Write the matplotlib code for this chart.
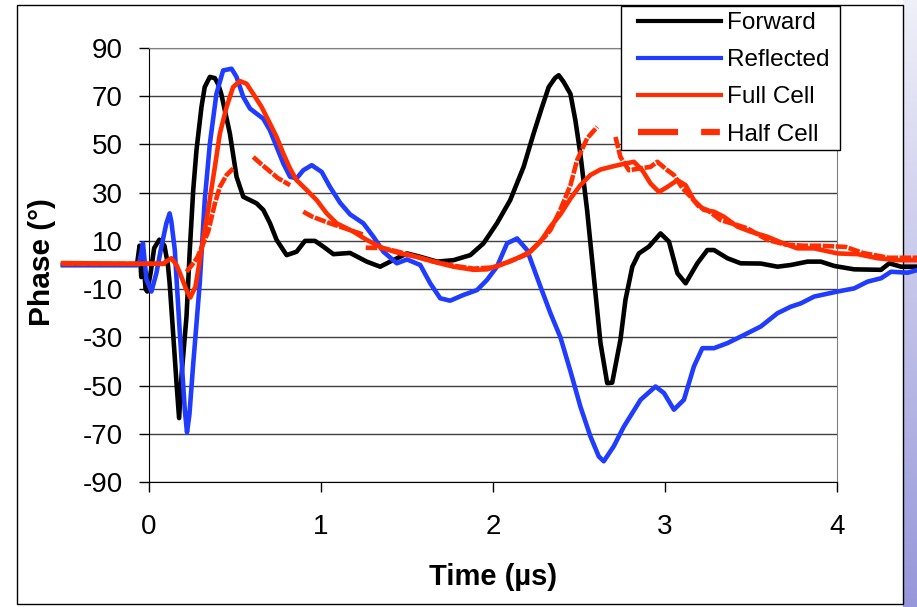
import numpy as np
import matplotlib.pyplot as plt
from matplotlib.lines import Line2D
from matplotlib.patches import Rectangle
from matplotlib.colors import LinearSegmentedColormap

plt.rcParams['font.family'] = ['Liberation Sans', 'DejaVu Sans']
plt.rcParams['axes.unicode_minus'] = False

nan = np.nan

## traces (time in us, phase in degrees)
fwd_t = [-0.5, -0.2, -0.07, -0.055, -0.045, -0.035, -0.02, -0.01, 0.01, 0.03, 0.06, 0.09, 0.11,
         0.12, 0.14, 0.16, 0.175, 0.19, 0.218, 0.237, 0.257, 0.276, 0.305, 0.324, 0.354, 0.383,
         0.402, 0.42, 0.47, 0.509, 0.548, 0.625, 0.665, 0.703, 0.742, 0.80, 0.858, 0.907, 0.965,
         1.014, 1.072, 1.169, 1.266, 1.344, 1.402, 1.5, 1.577, 1.674, 1.77, 1.868, 1.945, 2.023,
         2.1, 2.178, 2.236, 2.285, 2.324, 2.36, 2.382, 2.41, 2.45, 2.479, 2.508, 2.547, 2.586,
         2.625, 2.664, 2.693, 2.741, 2.77, 2.81, 2.848, 2.906, 2.974, 3.023, 3.072, 3.12, 3.188,
         3.246, 3.285, 3.363, 3.44, 3.557, 3.654, 3.731, 3.829, 3.906, 3.984, 4.1, 4.256, 4.304,
         4.372, 4.47]
fwd_p = [0, 0, 0, 8, -5, 6, -10, -11, -3, 7, 10.5, 8, 0,
         -7.6, -28, -49, -63.5, -45, -21.4, 6, 31, 47.6, 65.5, 73.8, 78, 77.5,
         75, 71, 54.6, 36.6, 28.3, 25.6, 22.8, 17.4, 10.4, 4.1, 5.5, 10, 10,
         7.6, 4.5, 5, 1.4, -0.7, 1.4, 4.8, 3.4, 1.4, 2, 4.1, 9, 17.3,
         26.9, 40.7, 54.5, 65.5, 73.8, 77.5, 78.7, 76, 71, 60, 46, 22.8, -4.8,
         -32.4, -49, -48.8, -31, -14.5, -0.7, 4.8, 7.6, 13.1, 9.7, -3.4, -7.6, 0.7,
         6.2, 6.2, 2.8, 0.7, 0.6, -0.7, 0, 1.4, 1.4, -0.4, -1.8, -2, 0.7,
         -0.7, -0.7]

refl_t = [-0.5, -0.06, -0.045, -0.035, -0.015, 0.014, 0.043, 0.072, 0.101, 0.12, 0.13, 0.15,
          0.179, 0.208, 0.221, 0.235, 0.256, 0.295, 0.324, 0.354, 0.392, 0.431, 0.48, 0.509,
          0.548, 0.587, 0.625, 0.664, 0.703, 0.742, 0.781, 0.82, 0.858, 0.897, 0.946, 1.004,
          1.052, 1.111, 1.169, 1.246, 1.305, 1.363, 1.441, 1.5, 1.577, 1.635, 1.693, 1.751,
          1.829, 1.907, 1.965, 2.023, 2.082, 2.14, 2.198, 2.276, 2.334, 2.392, 2.45, 2.508,
          2.566, 2.615, 2.644, 2.702, 2.761, 2.858, 2.945, 2.994, 3.052, 3.11, 3.168, 3.217,
          3.285, 3.363, 3.46, 3.557, 3.654, 3.731, 3.79, 3.867, 4.003, 4.1, 4.178, 4.256,
          4.314, 4.411, 4.47]
refl_p = [0, 0, 5, 9, -6, -11, -3.4, 7.6, 17.3, 21.4, 18, 6.2,
          -28, -60, -69.4, -62, -42, -7.6, 26.9, 50.4, 71, 80.7, 81.4, 78,
          69.7, 64.9, 62.8, 60.7, 55.9, 49, 42.1, 36.6, 35.9, 39.3, 41.4, 38.6,
          32.4, 25.8, 21, 17.3, 11.7, 5.5, 0.7, 2.3, 0, -7.6, -13.8, -14.8,
          -12.4, -10.4, -6.2, -0.7, 9, 11, 6.2, -9, -20, -30, -44, -58.7,
          -71, -79.4, -81.4, -75.2, -67, -55.9, -50.4, -53.1, -60, -55.9, -42.1, -34.5,
          -34.5, -32.4, -29, -25.5, -20, -17.3, -15.9, -13.1, -11, -9.7, -6.9, -5.5,
          -2.8, -3.2, -2]

full_t = [-0.5, 0.0, 0.08, 0.13, 0.16, 0.18, 0.218, 0.24, 0.27, 0.305, 0.344, 0.383, 0.412,
          0.451, 0.489, 0.528, 0.567, 0.606, 0.655, 0.703, 0.742, 0.781, 0.82, 0.858, 0.917,
          0.975, 1.033, 1.091, 1.15, 1.189, 1.266, 1.363, 1.46, 1.557, 1.654, 1.77, 1.887,
          1.965, 2.043, 2.14, 2.217, 2.276, 2.334, 2.392, 2.45, 2.508, 2.566, 2.625, 2.702,
          2.77, 2.819, 2.868, 2.916, 2.965, 3.014, 3.072, 3.12, 3.168, 3.227, 3.285, 3.343,
          3.421, 3.499, 3.596, 3.673, 3.77, 3.867, 4.003, 4.12, 4.237, 4.353, 4.47]
full_p = [0.8, 0.5, 0.5, 2.8, 0, -3.4, -10.4, -13.5, -9, 6.2, 22.8, 40.7, 54.5,
          65.5, 73.8, 76.3, 75.2, 71, 65.5, 58.7, 53.1, 46.2, 40, 35.2, 31.1,
          26.9, 21.4, 17.3, 15.2, 13.8, 10.4, 6.9, 4.8, 3.4, 1.4, -0.7, -2,
          -1.8, 0, 2.8, 5.5, 9.7, 15.9, 21, 27.5, 33.1, 37.3, 39.6, 41,
          42.1, 42.8, 39.3, 33.8, 30.3, 32.4, 35.2, 33.1, 26.9, 22.8, 22.1, 20,
          15.9, 13.8, 11.7, 9.4, 6.9, 6.9, 4.8, 4.5, 2.8, 2, 2]

half_t = [-0.5, 0.1, nan,
          0.218, 0.25, 0.28, 0.31, 0.344, 0.383, 0.412, 0.451, 0.489, nan,
          0.606, 0.65, 0.7, 0.75, 0.82, nan,
          0.897, 0.95, 1.052, 1.169, 1.25, nan,
          1.26, 1.36, 1.45, 1.55, 1.65, 1.77, 1.887, 2.0, 2.1, 2.2, 2.3, 2.334, 2.392, 2.45,
          2.489, 2.547, 2.606, nan,
          2.712, 2.741, 2.79, 2.85, 2.916, 2.955, 3.014, 3.052, 3.1, 3.149, 3.2, 3.246, 3.324,
          3.4, 3.479, 3.596, 3.7, 3.8, 3.9, 4.05, 4.15, 4.3, 4.47]
half_p = [0.5, 0.5, nan,
          -2.8, 0, 3, 8, 13.8, 25.5, 32.4, 37.3, 40, nan,
          44.8, 42, 39, 36, 33.1, nan,
          22.1, 20, 17.3, 14.5, 12.5, nan,
          7.2, 7, 5.5, 3.5, 1.5, -0.3, -1.5, -1, 1.5, 4.5, 11.6, 14.5, 23, 33,
          43.5, 52.5, 57.3, nan,
          53.1, 44.8, 39.3, 40, 40.7, 42.8, 39.3, 37.3, 32, 28.3, 24, 22.8, 18.6,
          17, 15.2, 10.4, 8.5, 8, 8, 7.5, 5, 3, 3]

series_names = ['Forward', 'Reflected', 'Full Cell', 'Half Cell']

black = '#000000'
blue = '#1f3cff'
red = '#ff2d00'

fig = plt.figure(figsize=(9.17, 6.07), dpi=100)

# slide background strip on the right
side = fig.add_axes([903 / 917, 0, 14 / 917, 1], zorder=0)
grad = np.linspace(0, 1, 256).reshape(-1, 1)
side.imshow(grad, aspect='auto', extent=[0, 1, 0, 1], origin='upper',
            cmap=LinearSegmentedColormap.from_list('side', ['#f0f0f9', '#9696da']))
side.axis('off')

# chart frame
fig.patches.append(Rectangle((17 / 917, 3 / 607), 886 / 917, 599 / 607, transform=fig.transFigure,
                             fill=False, ec='black', lw=1, zorder=1))

ax = fig.add_axes([149 / 917, 1 - 482 / 607, 688 / 917, 434 / 607], zorder=2)
ax.plot(fwd_t, fwd_p, color=black, lw=3.3, clip_on=False, zorder=3)
ax.plot(refl_t, refl_p, color=blue, lw=3.3, clip_on=False, zorder=4)
ax.plot(half_t, half_p, color=red, lw=3.3, dashes=(2.5, 0.35), clip_on=False, zorder=5)
ax.plot(full_t, full_p, color=red, lw=3.3, clip_on=False, zorder=6)

ax.set_xlim(0, 4)
ax.set_ylim(-90, 90)
ax.set_xticks([0, 1, 2, 3, 4])
ax.set_yticks(range(-90, 91, 20))
ax.grid(axis='y', color='#404040', lw=1)
ax.set_axisbelow(True)
for s in ['left', 'bottom']:
    ax.spines[s].set_color('black')
for s in ['top', 'right']:
    ax.spines[s].set_color('#808080')
ax.tick_params(direction='out', length=7, width=1, labelsize=20)
ax.tick_params(axis='y', pad=12)
ax.tick_params(axis='x', pad=16)

fig.text(493 / 917, 1 - 577 / 607, 'Time (µs)', ha='center', va='center', fontsize=21,
         fontweight='bold')
fig.text(42 / 917, 1 - 262 / 607, 'Phase (°)', ha='center', va='center', rotation=90,
         fontsize=21.5, fontweight='bold')

# legend box drawn separately so the padding can match the slide
fig.patches.append(Rectangle((621 / 917, 1 - 150 / 607), 219 / 917, 144 / 607,
                             transform=fig.transFigure, fc='white', ec='black', lw=1, zorder=8))
handles = [Line2D([], [], color=black, lw=3),
           Line2D([], [], color=blue, lw=3),
           Line2D([], [], color=red, lw=3),
           Line2D([], [], color=red, lw=4.5, dashes=(6.4, 3.7, 3, 5))]
leg = fig.legend(handles, series_names, loc='upper left',
                 bbox_to_anchor=(631 / 917, 1 - 5 / 607), fontsize=17.5, frameon=False,
                 handlelength=3.4, handletextpad=0.25, labelspacing=0.62, borderpad=0.3,
                 borderaxespad=0)
leg.set_zorder(10)

fig.savefig('out.png', dpi=100)
